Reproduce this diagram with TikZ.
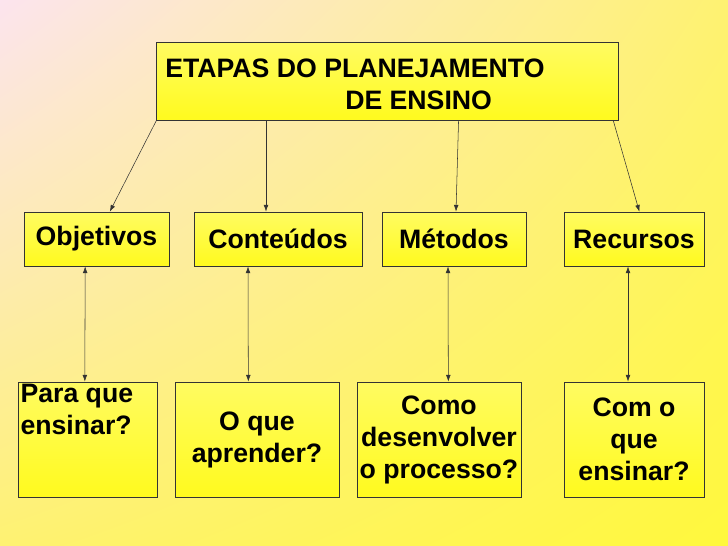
\documentclass[tikz,border=0pt]{standalone}
\usepackage{fontspec}
\setmainfont{Liberation Sans}
\usetikzlibrary{arrows.meta,positioning,shadings}
\definecolor{bgpink}{RGB}{252,228,238}
\definecolor{bgyellow}{RGB}{255,248,60}
\definecolor{boxyellow}{RGB}{255,250,30}
\tikzset{
  label font/.style={font=\bfseries\fontsize{20}{24}\selectfont},
  box/.style={draw=black!80, line width=0.6pt, top color=boxyellow!70!white, bottom color=boxyellow,
    minimum width=#1, inner sep=0pt, label font},
  link/.style={-{Latex[length=5pt,width=3.5pt]}, line width=0.4pt, draw=black!80},
  twoway/.style={{Latex[length=5pt,width=3.5pt]}-{Latex[length=5pt,width=3.5pt]}, line width=0.4pt, draw=black!80}
}
\begin{document}
\begin{tikzpicture}[x=0.75pt, y=-0.75pt]
  \shade[upper left=bgpink, lower right=bgyellow, upper right=bgyellow!70!bgpink, lower left=bgyellow!70!bgpink]
    (0,0) rectangle (728,546);
  \useasboundingbox (0,0) rectangle (728,546);
  % top box
  \node[box=346pt, minimum height=58.5pt] (plan) at (387.5,81) {};
  \node[anchor=west, label font, inner sep=0pt] (plantxt) at (165,68) {ETAPAS DO PLANEJAMENTO};
  \node[anchor=west, label font, inner sep=0pt] at (345,100) {DE ENSINO};
  % middle row
  \node[box=108.75pt, minimum height=40.5pt] (obj) at (96.5,239) {Objetivos};
  \node[box=126pt, minimum height=40.5pt] (cont) at (278,239) {Conteúdos};
  \node[box=108pt, minimum height=40.5pt] (met) at (454,239) {Métodos};
  \node[box=105pt, minimum height=40.5pt] (rec) at (634,239) {Recursos};
  % bottom row
  \node[box=104.25pt, minimum height=86.25pt] (q1) at (87.5,439.5) {};
  \node[anchor=north west, align=left, label font, inner sep=2pt] at (q1.north west) {Para que\\ensinar?};
  \node[box=123pt, minimum height=86.25pt, align=center] (q2) at (257,439.5) {O que\\aprender?};
  \node[box=123pt, minimum height=86.25pt, align=center] (q3) at (439,439.5) {Como\\desenvolver\\o processo?};
  \node[box=105pt, minimum height=86.25pt, align=center] (q4) at (634,439.5) {Com o\\que\\ensinar?};
  % links
  \draw[link] (plan.south west) -- ([xshift=10pt]obj.north);
  \draw[link] ([xshift=-9pt]plan.south -| cont.north) -- ([xshift=-9pt]cont.north);
  \draw[link] ([xshift=-120pt]plan.south east) -- ([xshift=1.5pt]met.north);
  \draw[link] ([xshift=-4pt]plan.south east) -- ([xshift=4pt]rec.north);
  \draw[twoway] ([xshift=-8.5pt]obj.south) -- ([xshift=-2pt]q1.north);
  \draw[twoway] ([xshift=-22.5pt]cont.south) -- ([xshift=-6.5pt]q2.north);
  \draw[twoway] ([xshift=-4.5pt]met.south) -- ([xshift=7pt]q3.north);
  \draw[twoway] ([xshift=-4.5pt]rec.south) -- ([xshift=-4.5pt]q4.north);
\end{tikzpicture}
\end{document}
